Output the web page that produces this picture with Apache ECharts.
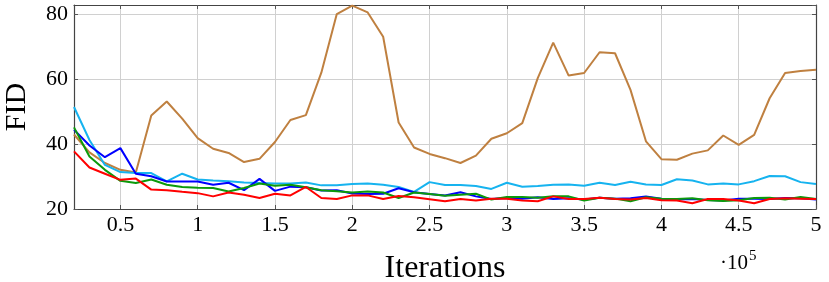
<!DOCTYPE html>
<html>
<head>
<meta charset="utf-8">
<script src="https://cdn.jsdelivr.net/npm/echarts@6/dist/echarts.min.js"></script>
<style>
html,body{margin:0;padding:0;background:#fff;}
#chart{width:829px;height:282px;}
</style>
</head>
<body>
<div id="chart"></div>
<script>
// Iterations (x 10^5)
const iterations = [0.2,0.3,0.4,0.5,0.6,0.7,0.8,0.9,1.0,1.1,1.2,1.3,1.4,1.5,1.6,1.7,1.8,1.9,2.0,2.1,2.2,2.3,2.4,2.5,2.6,2.7,2.8,2.9,3.0,3.1,3.2,3.3,3.4,3.5,3.6,3.7,3.8,3.9,4.0,4.1,4.2,4.3,4.4,4.5,4.6,4.7,4.8,4.9,5.0];
const xTickValues = [0.5,1,1.5,2,2.5,3,3.5,4,4.5,5];
const yTickValues = [20,40,60,80];

const brownFID = [43,37.5,34.2,32.1,31.3,48.9,53.2,47.9,41.9,38.6,37.3,34.5,35.5,40.7,47.5,49,62.1,80.2,82.8,80.7,73.2,46.7,39,37,35.7,34.2,36.5,41.7,43.4,46.5,60.4,71.4,61.2,62,68.4,68.1,56.8,40.9,35.4,35.2,37.1,38.1,42.7,39.8,42.9,54.2,62,62.6,63];
const cyanFID = [51.5,41.3,33.6,31.4,31.1,31.1,28.5,30.9,29.1,28.8,28.6,28.2,28,27.9,27.9,28.2,27.3,27.3,27.7,27.9,27.5,26.8,25.3,28.3,27.4,27.4,27.1,26.2,28.1,26.9,27.1,27.5,27.6,27.2,28.1,27.4,28.4,27.6,27.4,29.2,28.8,27.6,27.9,27.6,28.6,30.2,30.1,28.3,27.7];
const blueFID = [44.5,39.6,36,38.8,30.9,30.1,28.5,28.5,28.5,27.5,28.1,25.8,29.3,25.6,26.9,26.7,25.7,25.8,24.8,24.6,24.7,26.4,25.2,24.6,24.2,25.2,23.9,23.1,23.4,23.2,23.6,23.1,23.3,22.9,23.5,23.2,23.3,23.9,23.2,22.9,23.1,22.8,22.6,23.2,23.2,23.1,23.4,23.3,22.9];
const greenFID = [45.2,36.2,32.1,28.7,28,29.1,27.5,26.8,26.6,26.5,25.4,26.5,27.9,27.2,27.5,26.7,25.8,25.5,25.1,25.4,25.1,23.4,25.1,24.6,24.1,24.4,24.7,22.9,23.7,23.7,23.5,23.9,23.9,22.6,23.5,23.2,22.4,23.6,23.2,23.1,23.3,22.7,22.5,22.7,23.4,23.5,22.9,23.7,23.1];
const redFID = [37.8,32.8,30.9,29,29.4,26,25.8,25.3,24.9,23.9,25.1,24.4,23.4,24.7,24.2,26.8,23.4,23.1,24.2,24.2,23.1,24,23.6,23,22.4,23.1,22.6,23.2,23.2,22.6,22.4,23.9,23.1,23.1,23.5,23.1,22.9,23.4,22.7,22.6,21.8,23.1,23.1,22.6,21.8,23.1,23.3,23.2,23.1];

const FONT = 'Liberation Serif';
const pairs = arr => iterations.map((x,i) => [x, arr[i]]);
const mkSeries = (data, color) => ({
  type: 'line', data: pairs(data), showSymbol: false, symbol: 'none',
  lineStyle: {color: color, width: 2}, itemStyle: {color: color},
  clip: true, animation: false
});

const gridLine = {show: true, lineStyle: {color: '#d0d0d0', width: 1}};
const axisLineStyle = {show: true, onZero: false, lineStyle: {color: '#444', width: 1.2}};
const chart = echarts.init(document.getElementById('chart'), null, {renderer: 'canvas'});
chart.setOption({
  animation: false,
  backgroundColor: '#fff',
  grid: {left: 74, right: 13, top: 5, bottom: 73, containLabel: false, outerBoundsMode: 'none'},
  xAxis: [{
    type: 'value', min: 0.2, max: 5,
    name: 'Iterations', nameLocation: 'middle', nameGap: 44,
    nameTextStyle: {fontFamily: FONT, fontSize: 32, color: '#000'},
    axisLine: axisLineStyle,
    axisTick: {show: true, inside: true, length: 4, customValues: xTickValues, lineStyle: {color: '#555'}},
    axisLabel: {customValues: xTickValues, fontFamily: FONT, fontSize: 22, color: '#000', margin: 5,
      formatter: v => String(v)},
    splitLine: Object.assign({customValues: xTickValues}, gridLine)
  }, {
    type: 'value', min: 0.2, max: 5, position: 'top',
    axisLine: axisLineStyle,
    axisTick: {show: true, inside: true, length: 4, customValues: xTickValues, lineStyle: {color: '#555'}},
    axisLabel: {show: false}, splitLine: {show: false}
  }],
  yAxis: [{
    type: 'value', min: 20, max: 83, interval: 20,
    name: 'FID', nameLocation: 'middle', nameGap: 42, nameRotate: 90,
    nameTextStyle: {fontFamily: FONT, fontSize: 30, color: '#000'},
    axisLine: axisLineStyle,
    axisTick: {show: true, inside: true, length: 4, lineStyle: {color: '#555'}},
    axisLabel: {fontFamily: FONT, fontSize: 22, color: '#000', margin: 6},
    splitLine: gridLine
  }, {
    type: 'value', min: 20, max: 83, interval: 20, position: 'right',
    axisLine: axisLineStyle,
    axisTick: {show: true, inside: true, length: 4, lineStyle: {color: '#555'}},
    axisLabel: {show: false}, splitLine: {show: false}
  }],
  graphic: [{
    type: 'text', left: 720, top: 249,
    style: {
      text: '{a|·10}{b|5}',
      rich: {
        a: {fontFamily: FONT, fontSize: 21, fill: '#000', verticalAlign: 'bottom'},
        b: {fontFamily: FONT, fontSize: 15, fill: '#000', verticalAlign: 'top', padding: [0,0,10,1]}
      }
    }
  }],
  series: [
    mkSeries(brownFID, '#bf8040'),
    mkSeries(cyanFID, '#16b3ef'),
    mkSeries(blueFID, '#0000ff'),
    mkSeries(greenFID, '#0b9a0b'),
    mkSeries(redFID, '#ff0000')
  ]
});
</script>
</body>
</html>
